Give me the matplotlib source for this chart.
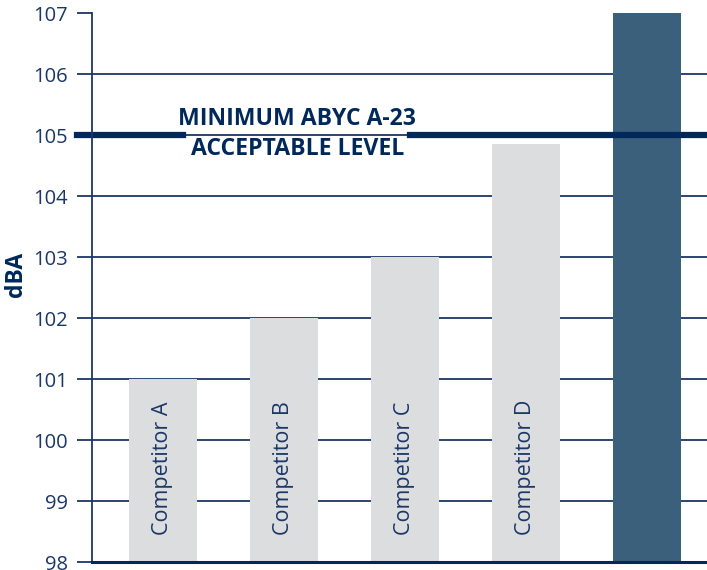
import matplotlib.pyplot as plt
import numpy as np

# data
names = ['Competitor A', 'Competitor B', 'Competitor C', 'Competitor D', '']
values = [101, 102, 103, 104.85, 107]
limit = 105
yticks = [98, 99, 100, 101, 102, 103, 104, 105, 106, 107]

navy = '#1b3766'
dark = '#00285a'
grey = '#dcdddf'
blue = '#3a607c'

plt.rcParams['font.family'] = ['Open Sans', 'DejaVu Sans']

fig = plt.figure(figsize=(7.07, 5.70), dpi=100)
ax = fig.add_axes([0.130, 0.014, 0.870, 0.963])

x = np.arange(len(values))
colors = [grey] * (len(values) - 1) + [blue]
ax.bar(x, [v - 98 for v in values], bottom=98, width=0.56, color=colors, zorder=2)

# gridlines behind bars
for t in yticks[1:-1]:
    ax.axhline(t, color=navy, lw=1.3, zorder=1)

# limit line, broken behind the label
ax.axhline(limit, xmin=-0.025, xmax=0.148, color=dark, lw=4.5, zorder=3, clip_on=False)
ax.axhline(limit, xmin=0.517, xmax=1.0, color=dark, lw=4.5, zorder=3, clip_on=False)
ax.text(1.11, limit + 0.02, 'MINIMUM ABYC A-23\nACCEPTABLE LEVEL', ha='center', va='center',
        fontsize=16.6, fontweight='bold', color=dark, linespacing=1.33, zorder=4)

# labels inside bars
for i, n in enumerate(names):
    if n:
        ax.text(i, 98.45, n, rotation=90, ha='center', va='bottom',
                fontsize=15.5, color=navy, zorder=4)

ax.set_xlim(-0.587, 4.496)
ax.set_ylim(98, 107)
ax.set_yticks(yticks)
ax.set_xticks([])
ax.tick_params(axis='y', length=11, width=1.3, color=navy, labelcolor=navy,
               labelsize=14.5, pad=6.5)
ax.set_ylabel('dBA', fontsize=16.5, fontweight='bold', color=dark)
ax.yaxis.set_label_coords(-0.104, 0.524)

for s in ['top', 'right']:
    ax.spines[s].set_visible(False)
ax.spines['left'].set_color(navy)
ax.spines['left'].set_linewidth(1.3)
ax.spines['bottom'].set_color(dark)
ax.spines['bottom'].set_linewidth(2.2)
ax.spines['left'].set_zorder(5)
ax.spines['bottom'].set_zorder(5)

fig.savefig('out.png', dpi=100)
